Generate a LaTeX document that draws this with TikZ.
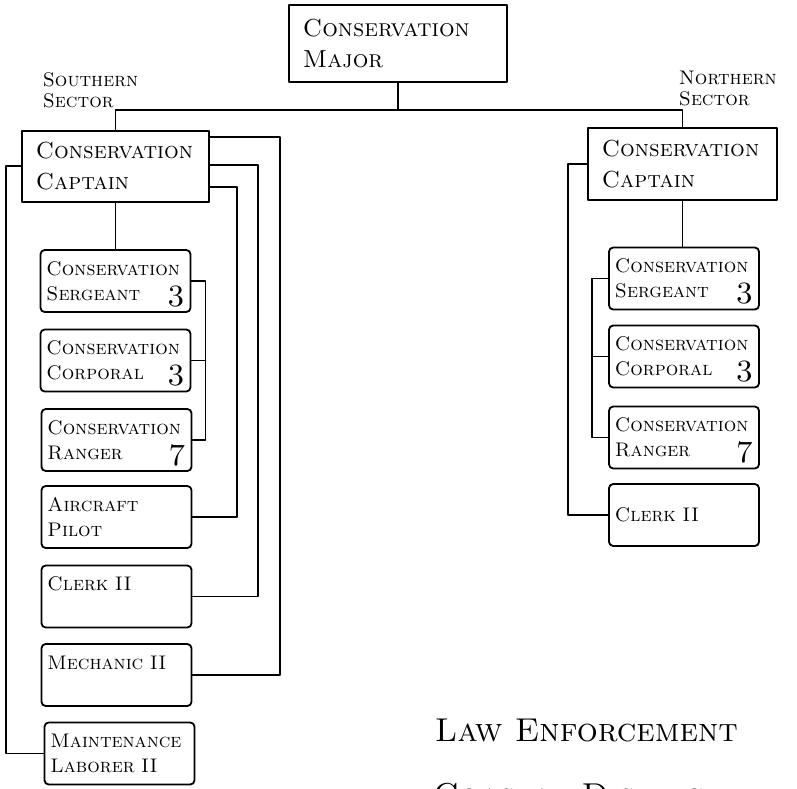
\documentclass[tikz,border=0pt]{standalone}

\begin{document}
\begin{tikzpicture}[x=0.025cm, y=-0.025cm, line join=round, line cap=round,
    every node/.style={font=\scshape},
    topbox/.style={draw, line width=1.3pt, align=left, inner xsep=0.35cm},
    subbox/.style={draw, line width=1.3pt, rounded corners=3pt, align=left,
      text width=3.45cm, inner xsep=0.15cm, minimum height=1.55cm,
      font=\scshape\fontsize{14}{18}\selectfont},
    link/.style={line width=1.1pt}]

    % 画面の大きさ
    \useasboundingbox (0,0) rectangle (797,789);
    \clip (0,0) rectangle (797,789);

    % 人数の書き方
    \newcommand{\num}[1]{\hfill\smash{\raisebox{-4pt}{\fontsize{22}{22}\selectfont #1}}\hspace{0.25cm}}

    % 上の箱
    \node[topbox, text width=4.75cm, minimum height=1.925cm, font=\scshape\fontsize{17.5}{22}\selectfont] (major) at (398,43.5) {Conservation\\Major};
    \node[topbox, text width=3.975cm, minimum height=1.775cm, font=\scshape\fontsize{16.5}{22}\selectfont] (scpt) at (115.5,166.5) {Conservation\\Captain};
    \node[topbox, text width=4.025cm, minimum height=1.8cm, font=\scshape\fontsize{16.5}{22}\selectfont] (ncpt) at (682.5,164) {Conservation\\Captain};

    % 南の箱
    \node[subbox] (ssgt) at (115.5,281) {Conservation\\Sergeant \num{3}};
    \node[subbox] (scpl) at (115.5,360.5) {Conservation\\Corporal \num{3}};
    \node[subbox] (srgr) at (116.5,440) {Conservation\\Ranger \num{7}};
    \node[subbox] (spil) at (116.5,517) {Aircraft\\Pilot};
    \node[subbox] (sclk) at (116.5,596.5) {Clerk II\\\mbox{}};
    \node[subbox] (smech) at (116.5,675) {Mechanic II\\\mbox{}};
    \node[subbox] (smnt) at (119.5,753.5) {Maintenance\\Laborer II};

    % 北の箱
    \node[subbox] (nsgt) at (684,278.5) {Conservation\\Sergeant \num{3}};
    \node[subbox] (ncpl) at (684,356.5) {Conservation\\Corporal \num{3}};
    \node[subbox] (nrgr) at (684,437.5) {Conservation\\Ranger \num{7}};
    \node[subbox] (nclk) at (684,515) {Clerk II};

    % 線（上）
    \coordinate (bus) at (398,110);
    \draw[link] (major.south) -- (bus);
    \draw[link] (scpt.north) |- (bus) -| (ncpt.north);

    % 線（南）
    \draw[link] (scpt.south) -- (ssgt.north);
    \draw[link] (ssgt.east) -- ++(14,0) |- (srgr.east);
    \draw[link] (scpl.east) -- ++(14,0);
    \draw[link] (spil.east) -| (237,187) -- (scpt.east |- 0,187);
    \draw[link] (sclk.east) -| (258,165) -- (scpt.east |- 0,165);
    \draw[link] (smech.east) -| (280,137) -- (scpt.east |- 0,137);
    \draw[link] (smnt.west) -| (6,166) -- (scpt.west |- 0,166);

    % 線（北）
    \draw[link] (ncpt.south) -- (ncpt.south |- nsgt.north);
    \draw[link] (nsgt.west) -- ++(-16,0) |- (nrgr.west);
    \draw[link] (ncpl.west) -- ++(-16,0);
    \draw[link] (ncpt.west) -| (568,515) -- (nclk.west);

    % ラベル
    \node[anchor=north west, align=left, font=\scshape\fontsize{14}{15}\selectfont] (south) at (38,68) {Southern\\Sector};
    \node[anchor=north west, align=left, font=\scshape\fontsize{14}{15}\selectfont] (north) at (674,66) {Northern\\Sector};
    \node[anchor=base west, font=\scshape\fontsize{23.5}{24}\selectfont] (title) at (430,741) {Law Enforcement};
    \node[anchor=base west, font=\scshape\fontsize{23.5}{24}\selectfont] (district) at (428,806) {Coastal District};

\end{tikzpicture}
\end{document}
